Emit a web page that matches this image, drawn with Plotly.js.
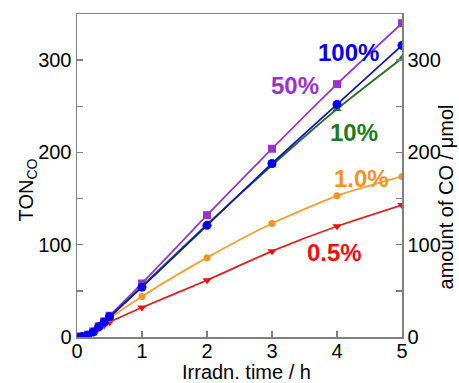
<!DOCTYPE html>
<html>
<head>
<meta charset="utf-8">
<script src="https://cdn.plot.ly/plotly-3.0.1.min.js"></script>
<style>html,body{margin:0;padding:0;background:#fff;}#chart{width:459px;height:383px;}</style>
</head>
<body>
<div id="chart"></div>
<script>
// Irradiation time (h)
var times = [0, 0.083, 0.167, 0.25, 0.333, 0.417, 0.5, 1, 2, 3, 4, 5];
// TON_CO series
var ton100 = [0, 0.5, 2, 5.5, 11, 16, 22, 54, 121, 188, 252, 316];
var ton50  = [0, 0.5, 2.5, 6, 11.5, 17, 23, 58, 132, 204, 274, 340];
var ton10  = [0, 0.5, 2, 5.5, 11, 16, 21, 55, 122, 186, 247, 302];
var ton1p0 = [0, 0.5, 2, 5.5, 10, 15, 20, 44, 86, 123, 153, 174];
var ton0p5 = [0, 0.5, 2, 5, 9, 12.5, 16, 32, 61.5, 93, 120, 143];
var seriesNames = ['0.5%', '1.0%', '50%', '10%', '100%'];
var leftTicks = [0, 100, 200, 300];
var rightTicks = [0, 100, 200, 300];
var xTicks = [0, 1, 2, 3, 4, 5];

var FONT = 'Arial, "Liberation Sans", sans-serif';
var L = 76.7, R = 401.7, T = 14, B = 336.7, W = 459, H = 383;
var pw = R - L, ph = B - T;
function px(x){ return (x - L) / pw; }
function py(y){ return (B - y) / ph; }

function tr(y, name, color, lineColor, symbol, size){
  return {x: times, y: y, name: name, type: 'scatter', mode: 'lines+markers',
    line: {color: lineColor, width: 1.8, shape: 'spline', smoothing: 0.6},
    marker: {color: color, symbol: symbol, size: size}, hoverinfo: 'x+y'};
}
var data = [
  tr(ton0p5, seriesNames[0], '#f01010', '#e02020', 'triangle-down', 8),
  tr(ton1p0, seriesNames[1], '#f7941d', '#f5a035', 'circle', 7),
  tr(ton50,  seriesNames[2], '#9933cc', '#9438d0', 'square', 8),
  tr(ton10,  seriesNames[3], '#1e7a1e', '#2a6e2a', 'triangle-up', 8),
  tr(ton100, seriesNames[4], '#0000ee', '#1515b5', 'circle', 9),
  {x: [], y: [], yaxis: 'y2', type: 'scatter', showlegend: false, hoverinfo: 'skip'}
];

var axColor = '#808080';
var layout = {
  width: W, height: H,
  margin: {l: L, r: W - R, t: T, b: H - B, pad: 0},
  paper_bgcolor: '#fff', plot_bgcolor: '#fff',
  showlegend: false,
  font: {family: FONT, size: 19, color: '#000'},
  xaxis: {range: [0, 5], tickvals: xTicks, ticktext: xTicks.map(String),
    showline: true, linecolor: axColor, linewidth: 1.5, mirror: true,
    ticks: 'inside', ticklen: 6, tickcolor: axColor, tickwidth: 1.5,
    showgrid: false, zeroline: false, tickfont: {size: 20}, ticklabelstandoff: -5},
  yaxis: {range: [0, 350], tickvals: leftTicks, ticktext: leftTicks.map(String),
    showline: true, linecolor: axColor, linewidth: 1.5,
    ticks: 'inside', ticklen: 6, tickcolor: axColor, tickwidth: 1.5,
    minor: {dtick: 50, tick0: 0, ticks: 'inside', ticklen: 6, tickcolor: axColor, tickwidth: 1.5},
    showgrid: false, zeroline: false, tickfont: {size: 20}},
  yaxis2: {range: [0, 350], overlaying: 'y', side: 'right', tickvals: rightTicks, ticktext: rightTicks.map(String),
    showline: true, linecolor: axColor, linewidth: 1.5,
    ticks: 'inside', ticklen: 6, tickcolor: axColor, tickwidth: 1.5,
    minor: {dtick: 50, tick0: 0, ticks: 'inside', ticklen: 6, tickcolor: axColor, tickwidth: 1.5},
    showgrid: false, zeroline: false, tickfont: {size: 20}},
  annotations: [
    {text: 'Irradn. time / h', xref: 'paper', yref: 'paper', x: px(246), y: py(372), showarrow: false, font: {size: 20}, xanchor: 'center', yanchor: 'middle'},
    {text: 'TON<sub>CO</sub>', xref: 'paper', yref: 'paper', x: px(27), y: py(190), textangle: -90, showarrow: false, font: {size: 20}, xanchor: 'center', yanchor: 'middle'},
    {text: 'amount of CO / μmol', xref: 'paper', yref: 'paper', x: px(446), y: py(197), textangle: -90, showarrow: false, font: {size: 20}, xanchor: 'center', yanchor: 'middle'},
    {text: '<b>100%</b>', x: 4.17, y: 308, showarrow: false, font: {size: 24, color: '#0000ee'}},
    {text: '<b>50%</b>', x: 3.36, y: 273, showarrow: false, font: {size: 24, color: '#9933cc'}},
    {text: '<b>10%</b>', x: 4.26, y: 221.5, showarrow: false, font: {size: 24, color: '#1e7a1e'}},
    {text: '<b>1.0%</b>', x: 4.37, y: 172, showarrow: false, font: {size: 24, color: '#f7941d'}},
    {text: '<b>0.5%</b>', x: 3.96, y: 92, showarrow: false, font: {size: 24, color: '#f01010'}}
  ]
};
Plotly.newPlot('chart', data, layout, {displayModeBar: false, staticPlot: true});
</script>
</body>
</html>
